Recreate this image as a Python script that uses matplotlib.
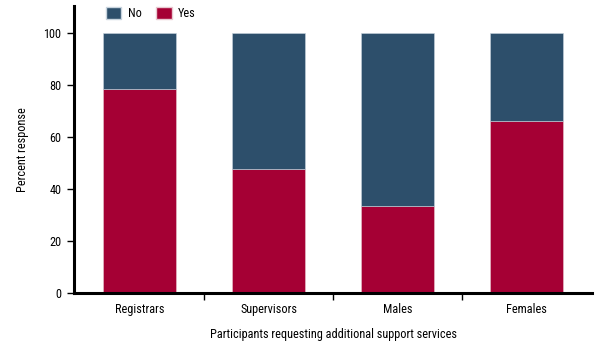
import matplotlib
matplotlib.use('Agg')
import matplotlib.pyplot as plt
import numpy as np
from matplotlib.patches import Patch
from matplotlib import font_manager

# 找一个窄体字体
names = set(f.name for f in font_manager.fontManager.ttflist)
fams = [f for f in ['Liberation Sans Narrow', 'Roboto Condensed', 'Open Sans Condensed',
                    'Liberation Sans'] if f in names]
plt.rcParams['font.family'] = fams + ['DejaVu Sans']
narrow = fams[0] != 'Liberation Sans' if fams else False
fs = 8.8 if narrow else 8

# 数据
categories = ['Registrars', 'Supervisors', 'Males', 'Females']
yes_pct = [78.6, 47.8, 33.6, 66.3]
no_pct = [100 - v for v in yes_pct]

c_no = '#2d4f6b'
c_yes = '#a50034'

fig = plt.figure(figsize=(6, 3.49), dpi=100)
ax = fig.add_axes([0.123, 0.1605, 0.864, 0.822])

x = np.arange(len(categories))
w = 0.566
ax.bar(x, yes_pct, width=w, color=c_yes, edgecolor='#e8c8d0', linewidth=0.4)
ax.bar(x, no_pct, width=w, bottom=yes_pct, color=c_no, edgecolor='#c8d4de', linewidth=0.4)

ax.set_xlim(-0.51, 3.51)
ax.set_ylim(0, 110.5)
ax.set_yticks([0, 20, 40, 60, 80, 100])
ax.set_xticks(x)
ax.set_xticklabels(categories)
ax.tick_params(axis='x', which='major', length=0, pad=7)
ax.set_xticks([0.5, 1.5, 2.5], minor=True)
ax.tick_params(axis='x', which='minor', length=5, width=1, direction='out')
ax.tick_params(axis='y', length=5, width=1, pad=4)
ax.tick_params(labelsize=fs)

for s in ['top', 'right']:
    ax.spines[s].set_visible(False)
for s in ['left', 'bottom']:
    ax.spines[s].set_linewidth(2.2)

ax.set_ylabel('Percent response', fontsize=fs, labelpad=10)
ax.set_xlabel('Participants requesting additional support services', fontsize=fs, labelpad=9)

handles = [Patch(facecolor=c_no, edgecolor='#c8d4de', label='No'),
           Patch(facecolor=c_yes, edgecolor='#e8c8d0', label='Yes')]
ax.legend(handles=handles, loc='upper left', bbox_to_anchor=(0.04, 1.035), ncol=2,
          frameon=False, fontsize=fs, handlelength=1.3, handleheight=1.1,
          handletextpad=0.5, columnspacing=1.2)

fig.savefig('out.png', dpi=100)
